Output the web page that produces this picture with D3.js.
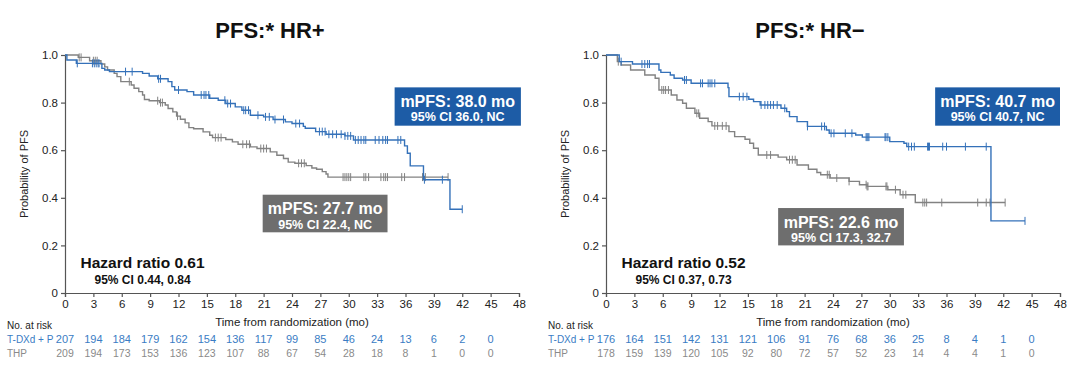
<!DOCTYPE html>
<html><head><meta charset="utf-8">
<script src="https://cdn.jsdelivr.net/npm/d3@7"></script>
<style>
html,body{margin:0;padding:0;background:#fff;}
svg{display:block;font-family:"Liberation Sans",Arial,sans-serif;}
</style></head>
<body>
<svg id="chart" width="1080" height="371"></svg>
<script>
// ---------- DATA ----------
const xTicks = [0,3,6,9,12,15,18,21,24,27,30,33,36,39,42,45,48];
const yTicks = [0,0.2,0.4,0.6,0.8,1.0];
const riskTimes = [0,3,6,9,12,15,18,21,24,27,30,33,36,39,42,45];

// HR+ panel
const hrpTitle = "PFS:* HR+";
const hrpBlueT = [0.2,1.2,3.9,4.2,4.7,8.2,8.9,9.8,10.9,11.3,11.6,12.9,13.6,15.3,16.2,17.0,18.0,18.7,19.6,21.0,22.0,23.3,24.0,25.2,25.4,26.5,27.6,29.6,30.5,35.9,36.2,36.5,37.9,40.7];
const hrpBlueS = [0.979,0.965,0.944,0.937,0.93,0.923,0.912,0.90,0.888,0.867,0.853,0.846,0.832,0.818,0.81,0.796,0.782,0.768,0.747,0.74,0.729,0.719,0.712,0.70,0.692,0.678,0.667,0.66,0.643,0.618,0.587,0.534,0.476,0.352];
const hrpBlueCens = [1.3,2.9,3.1,3.3,3.5,3.6,6.4,7.1,9.9,10.1,12.0,14.4,14.7,14.9,15.2,16.9,17.2,17.5,18.9,19.1,19.4,20.4,21.2,21.6,22.2,23.1,24.4,24.8,26.9,27.2,27.5,27.9,28.3,28.7,29.2,29.6,29.9,30.2,30.7,31.0,31.3,31.6,31.8,32.8,33.2,33.6,33.9,34.1,35.2,35.5,38.0,39.9,42.0];
const hrpBlueEnd = 42.0;
const hrpGrayT = [1.4,2.6,3.8,4.2,4.5,5.2,5.5,5.9,7.0,7.3,7.8,8.2,8.4,8.9,10.0,10.6,10.9,11.4,11.8,12.2,12.7,13.1,13.6,14.6,15.3,15.6,17.0,17.7,18.3,19.6,20.3,21.7,22.4,23.1,23.6,24.3,25.5,26.1,26.6,27.2,27.6,27.8];
const hrpGrayS = [0.99,0.976,0.962,0.95,0.937,0.923,0.909,0.888,0.874,0.86,0.846,0.832,0.813,0.808,0.80,0.79,0.775,0.761,0.743,0.73,0.715,0.695,0.69,0.677,0.663,0.653,0.645,0.635,0.625,0.614,0.607,0.593,0.579,0.565,0.55,0.545,0.535,0.525,0.52,0.51,0.50,0.487];
const hrpGrayCens = [1.5,1.7,3.0,3.2,3.4,6.8,9.8,10.1,10.3,11.9,15.9,16.2,16.5,18.8,19.2,19.5,20.7,21.0,21.3,24.7,25.0,25.3,29.4,29.6,29.8,30.0,30.2,31.6,31.8,32.1,33.4,33.7,33.9,34.1,35.6,35.9,37.8,38.1,40.5];
const hrpGrayEnd = 40.5;
const hrpRiskBlue = [207,194,184,179,162,154,136,117,99,85,46,24,13,6,2,0];
const hrpRiskGray = [209,194,173,153,136,123,107,88,67,54,28,18,8,1,0,0];
const hrpBlueLabel = ["mPFS: 38.0 mo","95% CI 36.0, NC"];
const hrpGrayLabel = ["mPFS: 27.7 mo","95% CI 22.4, NC"];
const hrpHazard = ["Hazard ratio 0.61","95% CI 0.44, 0.84"];

// HR− panel
const hrnTitle = "PFS:* HR\u2212";
const hrnBlueT = [1.4,2.8,5.6,5.8,6.8,7.2,8.1,9.0,12.9,13.0,15.1,15.6,16.3,18.5,19.1,19.4,20.2,21.3,23.3,23.6,26.4,27.1,30.0,31.5,31.8,40.7];
const hrnBlueS = [0.972,0.962,0.937,0.927,0.916,0.902,0.895,0.881,0.863,0.825,0.814,0.804,0.79,0.776,0.762,0.741,0.72,0.70,0.685,0.671,0.664,0.655,0.636,0.629,0.615,0.303];
const hrnBlueCens = [1.6,3.8,4.1,4.4,4.6,8.3,8.5,10.0,10.2,10.8,11.0,11.2,11.5,14.1,14.5,14.9,16.4,16.8,17.1,17.4,17.7,18.1,18.9,21.3,22.8,23.1,23.8,24.1,25.3,26.0,27.5,27.6,27.7,27.8,29.5,29.6,29.8,32.0,32.3,32.6,34.0,34.1,34.2,35.6,36.0,38.0,40.2,44.3];
const hrnBlueEnd = 44.3;
const hrnGrayT = [1.2,1.6,2.6,4.1,5.2,5.6,6.9,7.5,8.1,8.5,9.4,9.9,10.8,11.2,13.0,13.6,14.7,15.2,15.6,16.1,18.2,19.1,20.2,21.4,22.3,22.7,23.7,25.7,26.8,27.6,29.8,31.1,32.7];
const hrnGrayS = [0.972,0.958,0.937,0.916,0.902,0.853,0.832,0.811,0.797,0.776,0.755,0.734,0.72,0.702,0.678,0.657,0.646,0.629,0.608,0.58,0.571,0.56,0.538,0.52,0.506,0.497,0.483,0.469,0.455,0.448,0.434,0.413,0.38];
const hrnGrayCens = [1.3,5.9,6.1,6.3,6.6,9.6,9.8,11.5,11.8,12.3,12.7,17.0,17.4,19.4,19.7,20.0,23.4,23.6,24.4,25.7,27.5,27.6,27.7,29.6,29.7,30.6,31.4,31.7,33.5,33.7,33.9,35.5,39.3,40.2,40.6,42.2];
const hrnGrayEnd = 42.2;
const hrnRiskBlue = [176,164,151,142,131,121,106,91,76,68,36,25,8,4,1,0];
const hrnRiskGray = [178,159,139,120,105,92,80,72,57,52,23,14,4,4,1,0];
const hrnBlueLabel = ["mPFS: 40.7 mo","95% CI 40.7, NC"];
const hrnGrayLabel = ["mPFS: 22.6 mo","95% CI 17.3, 32.7"];
const hrnHazard = ["Hazard ratio 0.52","95% CI 0.37, 0.73"];

const armNames = ["T-DXd + P","THP"];

// ---------- STYLE ----------
const BLUE = "#3471b9", BLUEBOX = "#1d5ca6", GRAY = "#828282", GRAYBOX = "#6e6e6e";
const BLUETXT = "#3a7cc4", GRAYTXT = "#8a8a8a", AXIS = "#555";

const svg = d3.select("#chart");

function survAt(T, S, t){
  let s = 1;
  for (let i=0;i<T.length;i++){ if (T[i] <= t) s = S[i]; }
  return s;
}

function panel(opt){
  const x = d3.scaleLinear().domain([0,48]).range([opt.x0, opt.x1]);
  const y = d3.scaleLinear().domain([0,1]).range([293, 55]);
  const g = svg.append("g");

  // title
  g.append("text").attr("x", opt.titleX).attr("y", 38).attr("text-anchor","middle")
    .attr("font-size", 22).attr("font-weight","bold").attr("fill","#111").text(opt.title);

  // axes
  const xa = g.append("g").attr("transform",`translate(0,${y(0)})`)
    .call(d3.axisBottom(x).tickValues(xTicks).tickFormat(d3.format("d")).tickSize(4).tickPadding(3));
  const ya = g.append("g").attr("transform",`translate(${x(0)},0)`)
    .call(d3.axisLeft(y).tickValues(yTicks).tickFormat(d => d===0 ? "0" : d3.format(".1f")(d)).tickSize(4).tickPadding(3));
  [xa,ya].forEach(a=>{
    a.select(".domain").attr("stroke",AXIS).attr("stroke-width",1.2);
    a.selectAll(".tick line").attr("stroke",AXIS).attr("stroke-width",1.2);
    a.selectAll(".tick text").attr("fill","#222").attr("font-size",11.5).attr("font-family","Liberation Sans, Arial, sans-serif");
  });

  g.append("text").attr("x", x(24)).attr("y", 326).attr("text-anchor","middle")
    .attr("font-size",11.5).attr("fill","#222").text("Time from randomization (mo)");
  g.append("text").attr("transform",`translate(${opt.x0-37},${y(0.5)}) rotate(-90)`)
    .attr("text-anchor","middle").attr("font-size",11).attr("fill","#222").text("Probability of PFS");

  // curves
  const line = d3.line().x(d=>x(d[0])).y(d=>y(d[1])).curve(d3.curveStepAfter);
  const arms = [
    {T:opt.grayT,S:opt.grayS,C:opt.grayCens,end:opt.grayEnd,col:GRAY},
    {T:opt.blueT,S:opt.blueS,C:opt.blueCens,end:opt.blueEnd,col:BLUE}
  ];
  arms.forEach(a=>{
    const pts = [[0,1]].concat(a.T.map((t,i)=>[t,a.S[i]]));
    pts.push([a.end, a.S[a.S.length-1]]);
    g.append("path").datum(pts).attr("d",line).attr("fill","none")
      .attr("stroke",a.col).attr("stroke-width",1.4);
    g.append("g").selectAll("line").data(a.C).join("line")
      .attr("x1",d=>x(d)).attr("x2",d=>x(d))
      .attr("y1",d=>y(survAt(a.T,a.S,d))-4).attr("y2",d=>y(survAt(a.T,a.S,d))+4)
      .attr("stroke",a.col).attr("stroke-width",1);
  });

  // label boxes
  function box(b, lbl, fill){
    const bx = x(b[0]), by = y(b[3]), bw = x(b[1])-x(b[0]), bh = y(b[2])-y(b[3]);
    g.append("rect").attr("x",bx).attr("y",by).attr("width",bw).attr("height",bh).attr("fill",fill);
    g.append("text").attr("x",bx+bw/2).attr("y",by+19.5).attr("text-anchor","middle")
      .attr("font-size",16).attr("font-weight","bold").attr("fill","#fff").text(lbl[0]);
    g.append("text").attr("x",bx+bw/2).attr("y",by+34).attr("text-anchor","middle")
      .attr("font-size",12.5).attr("font-weight","bold").attr("fill","#fff").text(lbl[1]);
  }
  box(opt.blueBox, opt.blueLabel, BLUEBOX);
  box(opt.grayBox, opt.grayLabel, GRAYBOX);

  // hazard ratio
  g.append("text").attr("x", x(8.2)).attr("y", 268).attr("text-anchor","middle")
    .attr("font-size",15.5).attr("font-weight","bold").attr("fill","#111").text(opt.hazard[0]);
  g.append("text").attr("x", x(8.2)).attr("y", 284).attr("text-anchor","middle")
    .attr("font-size",12).attr("font-weight","bold").attr("fill","#111").text(opt.hazard[1]);

  // risk table
  const lx = opt.x0 - 58;
  g.append("text").attr("x", lx).attr("y", 329).attr("font-size",10).attr("fill","#222").text("No. at risk");
  g.append("text").attr("x", lx).attr("y", 343).attr("font-size",10).attr("fill",BLUETXT).text(armNames[0]);
  g.append("text").attr("x", lx).attr("y", 357).attr("font-size",10).attr("fill",GRAYTXT).text(armNames[1]);
  g.append("g").selectAll("text").data(opt.riskBlue).join("text")
    .attr("x",(d,i)=>x(riskTimes[i])).attr("y",343).attr("text-anchor","middle")
    .attr("font-size",11).attr("fill",BLUETXT).text(d=>d);
  g.append("g").selectAll("text").data(opt.riskGray).join("text")
    .attr("x",(d,i)=>x(riskTimes[i])).attr("y",357).attr("text-anchor","middle")
    .attr("font-size",10.5).attr("fill",GRAYTXT).text(d=>d);
}

panel({x0:65,x1:519,titleX:270,title:hrpTitle,
  blueT:hrpBlueT,blueS:hrpBlueS,blueCens:hrpBlueCens,blueEnd:hrpBlueEnd,
  grayT:hrpGrayT,grayS:hrpGrayS,grayCens:hrpGrayCens,grayEnd:hrpGrayEnd,
  riskBlue:hrpRiskBlue,riskGray:hrpRiskGray,
  blueBox:[34.85,48.2,0.703,0.864],grayBox:[20.9,34.1,0.255,0.413],
  blueLabel:hrpBlueLabel,grayLabel:hrpGrayLabel,hazard:hrpHazard});

panel({x0:606,x1:1060,titleX:810,title:hrnTitle,
  blueT:hrnBlueT,blueS:hrnBlueS,blueCens:hrnBlueCens,blueEnd:hrnBlueEnd,
  grayT:hrnGrayT,grayS:hrnGrayS,grayCens:hrnGrayCens,grayEnd:hrnGrayEnd,
  riskBlue:hrnRiskBlue,riskGray:hrnRiskGray,
  blueBox:[34.8,48.0,0.703,0.864],grayBox:[18.2,31.5,0.2,0.357],
  blueLabel:hrnBlueLabel,grayLabel:hrnGrayLabel,hazard:hrnHazard});
</script>
</body></html>
